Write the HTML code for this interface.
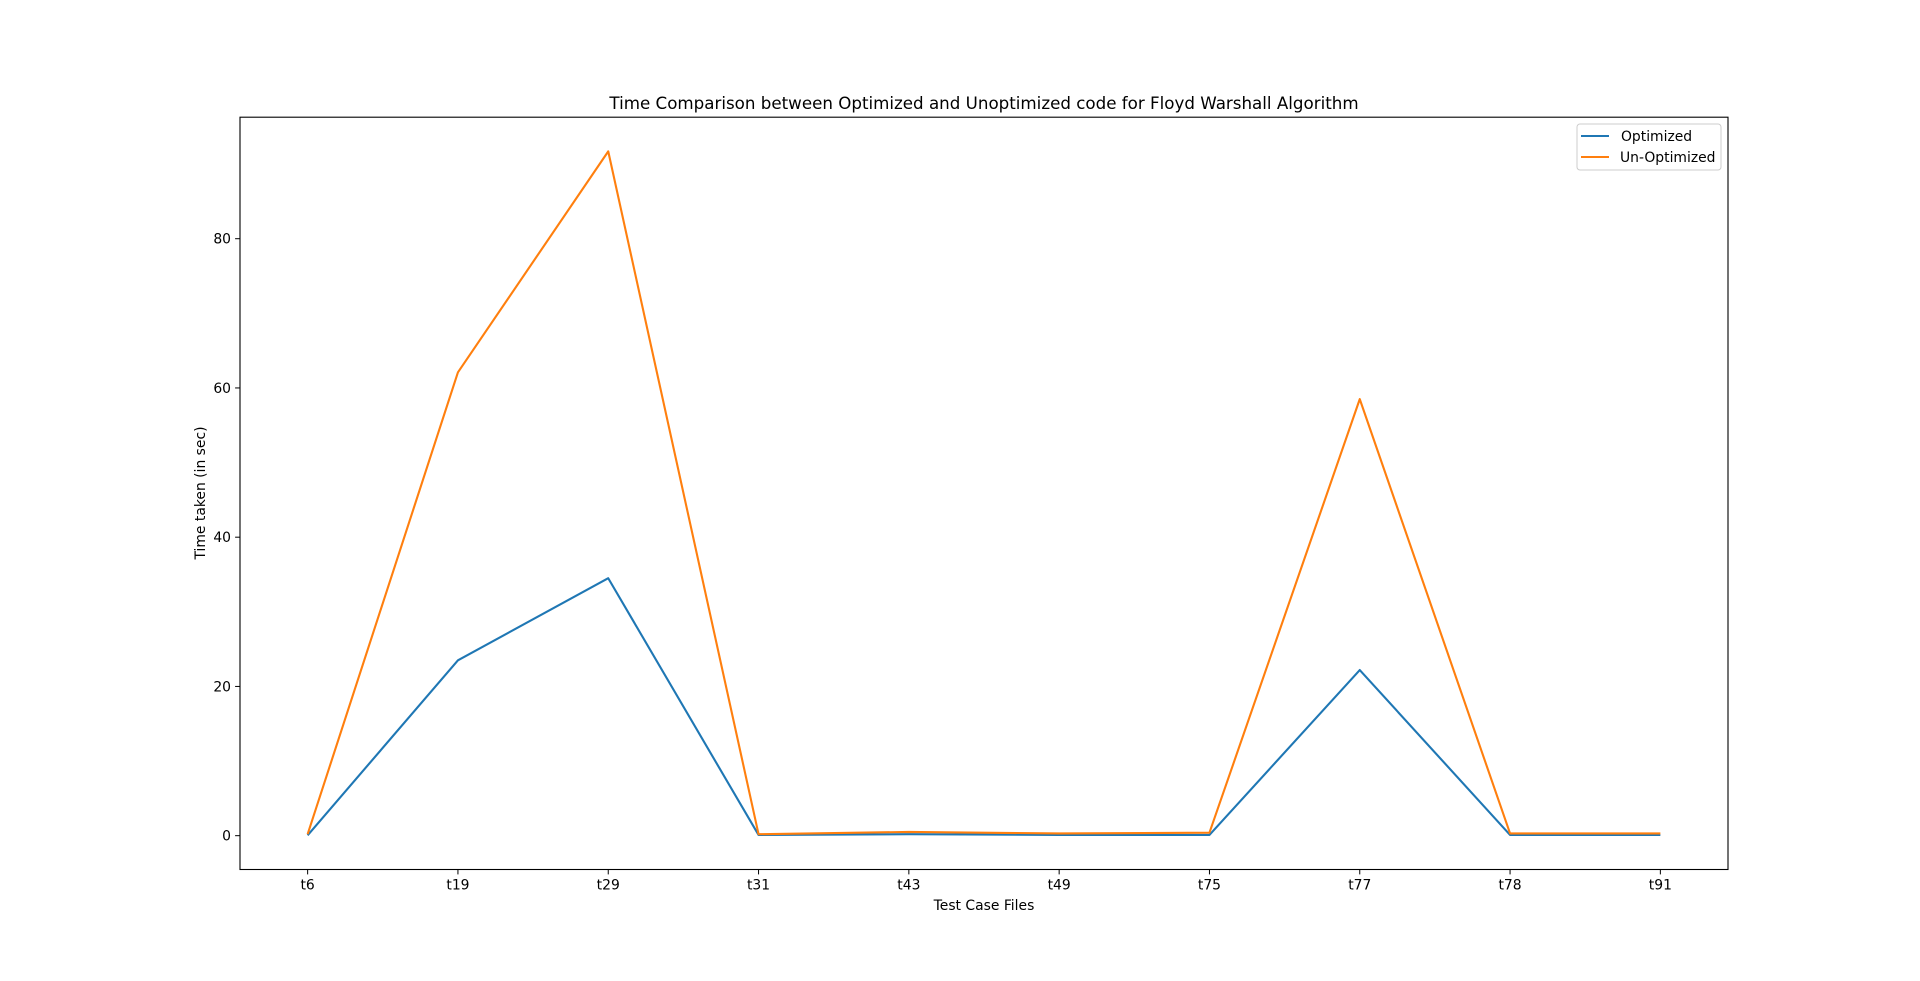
<!DOCTYPE html>
<html><head><meta charset="utf-8"><style>
body{margin:0;background:#fff;font-family:"DejaVu Sans","Liberation Sans",sans-serif;}
svg text{font-family:"DejaVu Sans","Liberation Sans",sans-serif;fill:#000;}
</style></head><body>
<svg id="chart" width="1920" height="977" viewBox="0 0 1920 977" xmlns="http://www.w3.org/2000/svg">
<rect width="1920" height="977" fill="#fff"/>
<text x="984" y="109" font-size="16.7" text-anchor="middle">Time Comparison between Optimized and Unoptimized code for Floyd Warshall Algorithm</text>
<g id="ticks"></g>
<g id="lines"></g>
<rect x="240" y="117.2" width="1488" height="752.3" fill="none" stroke="#000" stroke-width="1.1"/>
<text x="984" y="910" font-size="13.9" text-anchor="middle">Test Case Files</text>
<text transform="translate(205,493) rotate(-90)" font-size="13.9" text-anchor="middle">Time taken (in sec)</text>
<g>
<rect x="1577" y="124" width="144" height="46" rx="3" fill="#fff" stroke="#ccc" stroke-width="1"/>
<line x1="1581" y1="136" x2="1609" y2="136" stroke="#1f77b4" stroke-width="2.1"/>
<text x="1621" y="141" font-size="13.9">Optimized</text>
<line x1="1581" y1="157" x2="1609" y2="157" stroke="#ff7f0e" stroke-width="2.1"/>
<text x="1620" y="162" font-size="13.9">Un-Optimized</text>
</g>
</svg>
<script>
const categories = ["t6","t19","t29","t31","t43","t49","t75","t77","t78","t91"];
const optimized = [0.05, 23.5, 34.5, 0.1, 0.2, 0.1, 0.1, 22.2, 0.1, 0.1];
const unoptimized = [0.2, 62.1, 91.7, 0.2, 0.5, 0.3, 0.4, 58.5, 0.3, 0.3];
const yTicks = [0, 20, 40, 60, 80];

const L=240,R=1728,T=117.2,B=869.5;
const n=categories.length;
const xPad=(n-1)*0.05;
function xs(i){return L+(i+xPad)/((n-1)+2*xPad)*(R-L);}
const all=optimized.concat(unoptimized);
const dmin=Math.min(...all), dmax=Math.max(...all), rng=dmax-dmin;
const y0=dmin-rng*0.05, y1=dmax+rng*0.05;
function ys(v){return B-(v-y0)/(y1-y0)*(B-T);}
const NS="http://www.w3.org/2000/svg";
const tg=document.getElementById('ticks');
categories.forEach((c,i)=>{
  const x=xs(i);
  const l=document.createElementNS(NS,'line');
  l.setAttribute('x1',x);l.setAttribute('x2',x);l.setAttribute('y1',B);l.setAttribute('y2',B+4.9);
  l.setAttribute('stroke','#000');l.setAttribute('stroke-width','1');
  
  
  tg.appendChild(l);
  const t=document.createElementNS(NS,'text');
  t.setAttribute('x',x);t.setAttribute('y',B+20);t.setAttribute('font-size','13.9');t.setAttribute('text-anchor','middle');
  t.textContent=c;
  
  
  tg.appendChild(t);
});
yTicks.forEach(v=>{
  const y=ys(v);
  const l=document.createElementNS(NS,'line');
  l.setAttribute('x1',L-4.9);l.setAttribute('x2',L);l.setAttribute('y1',y);l.setAttribute('y2',y);
  l.setAttribute('stroke','#000');l.setAttribute('stroke-width','1');
  
  
  tg.appendChild(l);
  const t=document.createElementNS(NS,'text');
  t.setAttribute('x',L-9);t.setAttribute('y',y+5);t.setAttribute('font-size','13.9');t.setAttribute('text-anchor','end');
  t.textContent=v;
  
  
  tg.appendChild(t);
});
const lg=document.getElementById('lines');
function draw(vals,color,name){
  const p=document.createElementNS(NS,'polyline');
  p.setAttribute('points',vals.map((v,i)=>xs(i).toFixed(2)+','+ys(v).toFixed(2)).join(' '));
  p.setAttribute('fill','none');p.setAttribute('stroke',color);p.setAttribute('stroke-width','2.1');
  p.setAttribute('stroke-linejoin','round');
  
  
  lg.appendChild(p);
}
draw(optimized,'#1f77b4','optimized-line');
draw(unoptimized,'#ff7f0e','unoptimized-line');
</script>
</body></html>
